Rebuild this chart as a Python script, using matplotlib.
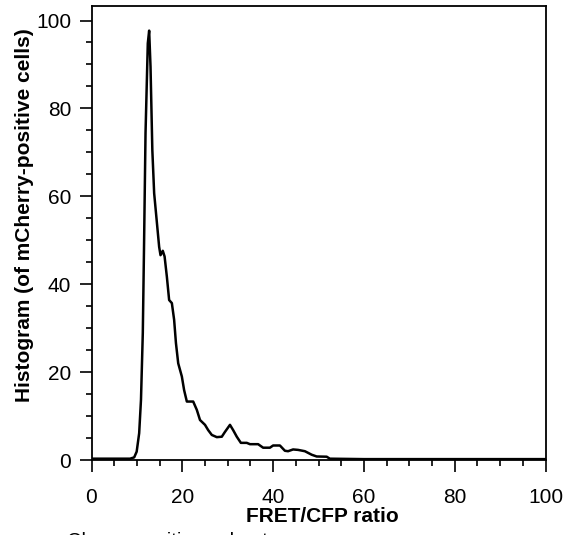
import numpy as np
import matplotlib
matplotlib.use('Agg')
import matplotlib.pyplot as plt
from matplotlib.ticker import MultipleLocator

plt.rcParams['font.family'] = ['Liberation Sans', 'DejaVu Sans']

# FRET/CFP ratio vs histogram value
ratio = [0, 4, 8.5, 9.4, 9.95, 10.5, 10.9, 11.3, 11.56, 11.9, 12.4, 12.7, 13.0,
         13.4, 13.8, 14.35, 14.9, 15.2, 15.7, 16.1, 16.6, 17.1, 17.7, 18.2, 18.6,
         19.1, 19.9, 20.4, 21.0, 21.7, 22.4, 23.2, 23.9, 25.0, 25.7, 26.5, 27.6,
         28.7, 29.4, 30.5, 31.2, 32.0, 32.9, 34.2, 34.9, 36.7, 37.8, 39.3, 40.0,
         41.5, 42.6, 43.3, 44.4, 45.5, 47.0, 48.5, 49.6, 51.8, 52.5, 60, 80, 100]
hist = [0.3, 0.3, 0.3, 0.6, 1.9, 6.1, 13.7, 28.9, 47.8, 74.4, 94.8, 97.7, 89.5,
        70.5, 60.7, 54.6, 48.5, 46.6, 47.6, 46.3, 41.7, 36.4, 35.7, 31.9, 26.6,
        22.0, 19.0, 15.9, 13.3, 13.3, 13.3, 11.4, 9.1, 8.0, 6.8, 5.7, 5.2,
        5.3, 6.4, 8.0, 6.8, 5.3, 3.9, 3.9, 3.6, 3.6, 2.8, 2.8, 3.3,
        3.3, 2.1, 2.0, 2.4, 2.3, 2.0, 1.2, 0.8, 0.75, 0.3, 0.2, 0.2, 0.2]

fig = plt.figure(figsize=(5.78, 5.35), dpi=100)
ax = fig.add_axes([91.5 / 578, 1 - 460 / 535, 454 / 578, 454 / 535])

ax.plot(ratio, hist, color='black', linewidth=1.8)

ax.set_xlim(0, 100)
ax.set_ylim(0, 103.3)
ax.xaxis.set_major_locator(MultipleLocator(20))
ax.xaxis.set_minor_locator(MultipleLocator(5))
ax.yaxis.set_major_locator(MultipleLocator(20))
ax.yaxis.set_minor_locator(MultipleLocator(5))
ax.tick_params(which='major', direction='out', length=8.5, width=1.2,
               labelsize=15)
ax.tick_params(axis='x', which='major', pad=11.5)
ax.tick_params(axis='y', which='major', pad=6)
ax.tick_params(which='minor', direction='out', length=4.5, width=1.2)
for s in ax.spines.values():
    s.set_linewidth(1.3)

ax.set_xlabel('FRET/CFP ratio', fontsize=15, fontweight='bold')
ax.set_ylabel('Histogram (of mCherry-positive cells)', fontsize=15,
              fontweight='bold')
ax.xaxis.set_label_coords(0.509, -0.103)
ax.yaxis.set_label_coords(-0.127, 0.54)

fig.text(67 / 578, 1 - 532 / 535, 'Cherry-positive subset', fontsize=14.5,
         ha='left', va='top')

fig.savefig('out.png', dpi=100)
